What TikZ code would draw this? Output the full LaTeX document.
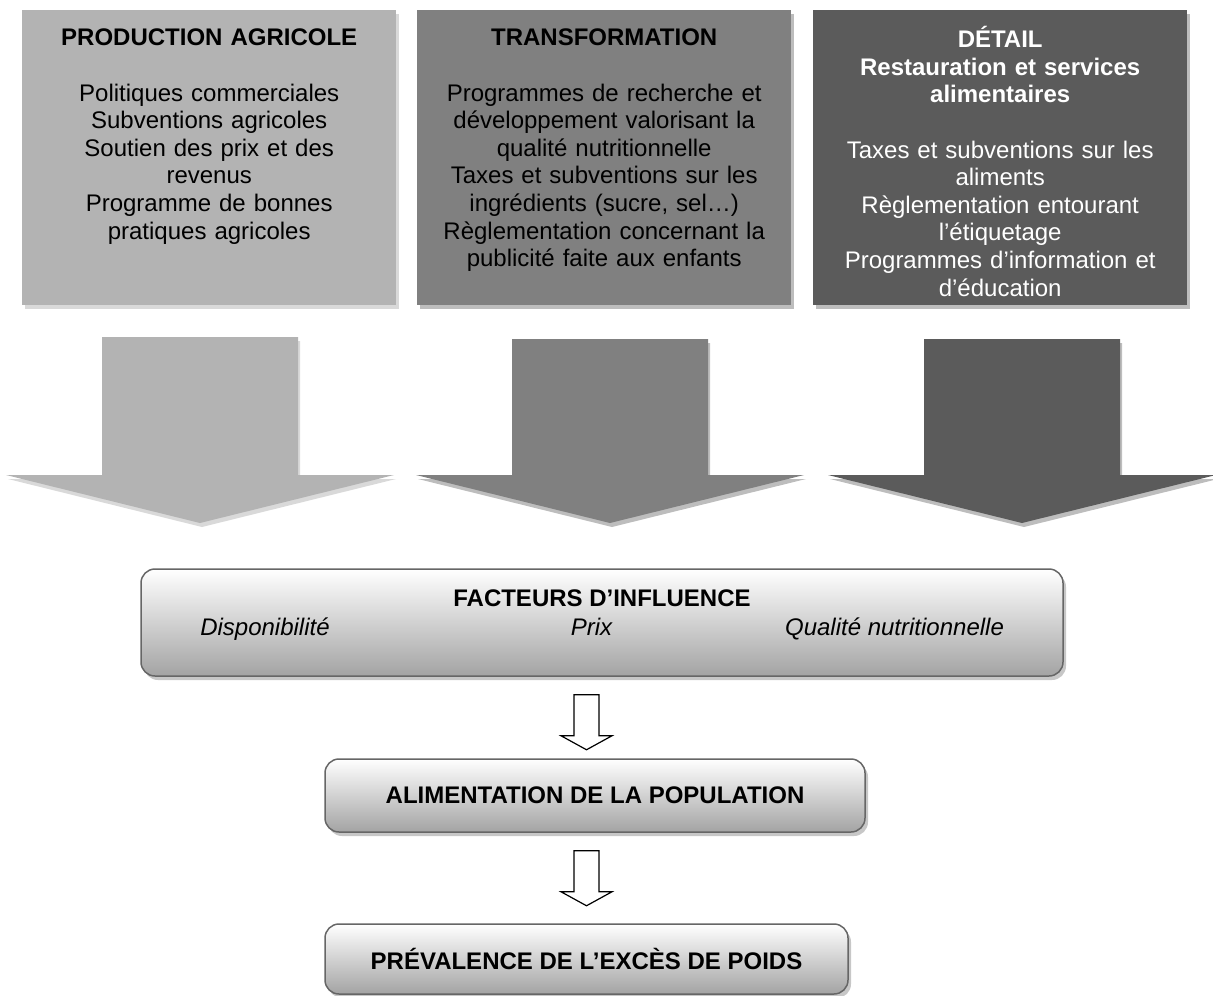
\documentclass[tikz,border=0pt]{standalone}
\usepackage{fontspec}
\setmainfont{Liberation Sans}
\usetikzlibrary{calc,shadows}
\definecolor{agri}{HTML}{B3B3B3}
\definecolor{transf}{HTML}{808080}
\definecolor{detail}{HTML}{5B5B5B}
\definecolor{lightshd}{HTML}{D9D9D9}
\definecolor{darkshd}{HTML}{BDBDBD}
\definecolor{frame}{HTML}{666666}
\begin{document}
\begin{tikzpicture}[x=1pt,y=-1pt,font=\fontsize{24}{27.6}\selectfont,
  secteur/.style={anchor=north,inner sep=0pt,align=center,text width=370pt},
  facteur/.style={draw=frame,line width=1.5pt,rounded corners=14pt,top color=white,bottom color=black!36,inner sep=0pt,
    drop shadow={shadow xshift=3pt,shadow yshift=-4pt,fill=black!22,opacity=1}},
  hollowarrow/.style={draw,fill=white,line width=1.2pt,line join=miter}]
\useasboundingbox (0,0) rectangle (1213,996);

% les trois secteurs
\foreach \x/\col/\shd/\nom in {22/agri/lightshd/prodbox,417/transf/darkshd/transbox,813/detail/darkshd/detailbox}
  \node[fill=\col,inner sep=0pt,minimum width=374,minimum height=295,anchor=north west,
    drop shadow={shadow xshift=3pt,shadow yshift=-4pt,fill=\shd,opacity=1}] (\nom) at (\x,10) {};

\node[secteur] (prod) at ([yshift=-16.3]prodbox.north) {\strut\textbf{PRODUCTION AGRICOLE}\\[27.6pt]
  Politiques commerciales\\ Subventions agricoles\\ Soutien des prix et des\\ revenus\\
  Programme de bonnes\\ pratiques agricoles};
\node[secteur] (trans) at ([yshift=-16.3]transbox.north) {\strut\textbf{TRANSFORMATION}\\[27.6pt]
  Programmes de recherche et\\ développement valorisant la\\ qualité nutritionnelle\\
  Taxes et subventions sur les\\ ingrédients (sucre, sel…)\\ Règlementation concernant la\\
  publicité faite aux enfants};
\node[secteur,text=white] (detail) at ([yshift=-16.3]detailbox.north) {\strut\textbf{DÉTAIL}\\
  \textbf{Restauration et services}\\ \textbf{alimentaires}\\[27.6pt]
  Taxes et subventions sur les\\ aliments\\ Règlementation entourant\\ l’étiquetage\\
  Programmes d’information et\\ d’éducation};

% grosses fleches
\foreach \cx/\top/\col/\shd in {200/337/agri/lightshd,610/339/transf/darkshd,1022/339/detail/darkshd} {
  \fill[\shd] (\cx-96,\top+4) -- (\cx+100,\top+4) -- (\cx+100,479) -- (\cx+196,479) -- (\cx+2,527)
    -- (\cx-192,479) -- (\cx-96,479) -- cycle;
  \fill[\col] (\cx-98,\top) -- (\cx+98,\top) -- (\cx+98,475) -- (\cx+194,475) -- (\cx,523)
    -- (\cx-194,475) -- (\cx-98,475) -- cycle;
}

\node[facteur,minimum width=922,minimum height=107] (facteurs) at (602,622.5) {};
\node[anchor=base] (facttitre) at (602,606.6) {\textbf{FACTEURS D’INFLUENCE}};
\foreach \x/\t [count=\i] in {265/Disponibilité,591.5/Prix,894.5/Qualité nutritionnelle}
  \node[anchor=base] (fact\i) at (\x,635) {\itshape\t};

\node[facteur,minimum width=540,minimum height=73] (alim) at (595,795.5) {\textbf{ALIMENTATION DE LA POPULATION}};
\node[facteur,minimum width=523,minimum height=70] (prev) at (586.5,959) {\textbf{PRÉVALENCE DE L’EXCÈS DE POIDS}};

% petites fleches
\foreach \a in {facteurs,alim}
  \draw[hollowarrow] ($(\a.south -| prev.north)+(-12.5,18)$) -- ++(0,41) -- ++(-13,0) -- ++(25.5,14)
    -- ++(25.5,-14) -- ++(-13,0) -- ++(0,-41) -- cycle;
\end{tikzpicture}
\end{document}
